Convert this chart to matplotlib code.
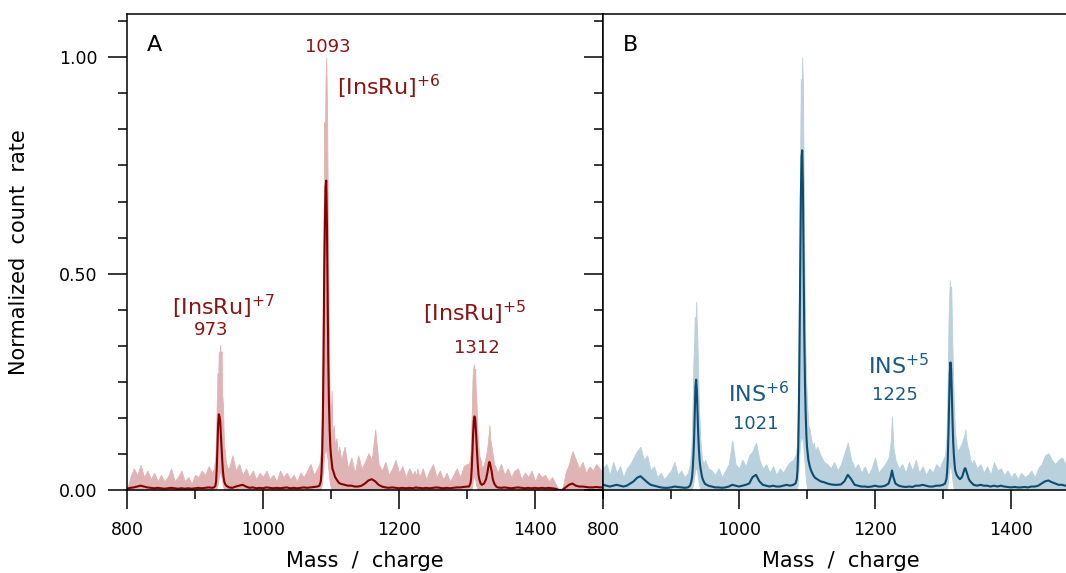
import numpy as np
import matplotlib
matplotlib.use("Agg")
import matplotlib.pyplot as plt
from matplotlib.ticker import MultipleLocator, FormatStrFormatter

# m/z sample positions (coarse in the baseline, 1 unit steps across the peaks)
mz = [800, 805, 810, 815, 820, 825, 830, 835, 840, 845, 850, 855, 860, 865,
      870, 875, 880, 885, 890, 895, 900, 905, 910, 915, 920, 925,
      928, 930, 931, 932, 933, 934, 935, 936, 937, 938, 939, 940, 941, 942,
      943, 944, 945, 946, 948,
      950, 955, 960, 965, 970, 975, 980, 985, 990, 995, 1000, 1005, 1010, 1015,
      1020, 1025, 1030, 1035, 1040, 1045, 1050, 1055, 1060, 1065, 1070, 1075, 1080,
      1083, 1085, 1086, 1087, 1088, 1089, 1090, 1091, 1092, 1093, 1094, 1095,
      1096, 1097, 1098, 1099, 1100, 1101, 1102, 1104, 1106, 1108, 1110, 1112,
      1115, 1120, 1125, 1130, 1135, 1140, 1145, 1150, 1155, 1160, 1165, 1170,
      1175, 1180, 1185, 1190, 1195, 1200, 1205, 1210, 1215, 1220,
      1223, 1225, 1227,
      1230, 1235, 1240, 1245, 1250, 1255, 1260, 1265, 1270, 1275, 1280, 1285,
      1290, 1295, 1300,
      1303, 1305, 1306, 1307, 1308, 1309, 1310, 1311, 1312, 1313, 1314, 1315,
      1316, 1317, 1318, 1320, 1322, 1325, 1328, 1330, 1332, 1333, 1334, 1336,
      1338, 1340, 1343,
      1345, 1350, 1355, 1360, 1365, 1370, 1375, 1380, 1385, 1390, 1395, 1400,
      1405, 1410, 1415, 1420, 1425, 1430, 1435, 1440, 1445, 1450, 1455, 1460,
      1465, 1470, 1475, 1480, 1485, 1490, 1495, 1500]

# panel A: [InsRu] complex, raw counts (light) and averaged counts (dark)
a_raw = [0.0, 0.03, 0.05, 0.035, 0.058, 0.03, 0.045, 0.025, 0.04, 0.02, 0.035, 0.02, 0.03, 0.05,
         0.02, 0.03, 0.045, 0.02, 0.03, 0.015, 0.035, 0.03, 0.045, 0.035, 0.055, 0.04,
         0.05, 0.08, 0.12, 0.2, 0.27, 0.25, 0.32, 0.3, 0.335, 0.3, 0.32, 0.22, 0.2, 0.14,
         0.1, 0.09, 0.07, 0.06, 0.05,
         0.05, 0.08, 0.045, 0.06, 0.035, 0.05, 0.03, 0.045, 0.025, 0.04, 0.03, 0.045, 0.025, 0.035,
         0.02, 0.045, 0.03, 0.04, 0.025, 0.035, 0.02, 0.04, 0.03, 0.045, 0.06, 0.035, 0.05,
         0.06, 0.09, 0.14, 0.25, 0.4, 0.6, 0.85, 0.8, 0.95, 1.0, 0.9, 0.72,
         0.5, 0.35, 0.22, 0.2, 0.18, 0.23, 0.12, 0.15, 0.1, 0.12, 0.08, 0.1,
         0.07, 0.1, 0.05, 0.075, 0.04, 0.08, 0.05, 0.065, 0.085, 0.07, 0.14, 0.06,
         0.045, 0.065, 0.035, 0.05, 0.07, 0.04, 0.055, 0.03, 0.05, 0.035,
         0.045, 0.03, 0.05,
         0.03, 0.05, 0.025, 0.045, 0.06, 0.03, 0.045, 0.025, 0.04, 0.02, 0.035, 0.05,
         0.03, 0.055, 0.06,
         0.06, 0.08, 0.12, 0.18, 0.25, 0.28, 0.29, 0.27, 0.28, 0.22, 0.2, 0.15,
         0.12, 0.1, 0.08, 0.07, 0.05, 0.06, 0.08, 0.1, 0.13, 0.15, 0.12, 0.1,
         0.08, 0.06, 0.05,
         0.04, 0.06, 0.035, 0.05, 0.03, 0.045, 0.05, 0.025, 0.04, 0.03, 0.045, 0.02,
         0.04, 0.03, 0.035, 0.02, 0.03, 0.015, 0.0, 0.0, 0.04, 0.06, 0.09, 0.07,
         0.05, 0.065, 0.04, 0.055, 0.045, 0.06, 0.05, 0.04]
a_avg = [0.003, 0.005, 0.006, 0.008, 0.01, 0.008, 0.006, 0.005, 0.004, 0.005, 0.004, 0.003, 0.004, 0.005,
         0.004, 0.003, 0.004, 0.003, 0.004, 0.003, 0.004, 0.005, 0.004, 0.005, 0.006, 0.005,
         0.006, 0.01, 0.02, 0.05, 0.1, 0.15, 0.175, 0.17, 0.16, 0.13, 0.1, 0.07, 0.045, 0.03,
         0.02, 0.015, 0.012, 0.01, 0.008,
         0.006, 0.005, 0.008, 0.01, 0.012, 0.008, 0.005, 0.006, 0.004, 0.005, 0.004, 0.006, 0.005, 0.004,
         0.005, 0.004, 0.005, 0.006, 0.004, 0.005, 0.004, 0.005, 0.006, 0.005, 0.006, 0.007, 0.008,
         0.01, 0.02, 0.04, 0.08, 0.16, 0.3, 0.5, 0.62, 0.7, 0.715, 0.62, 0.45,
         0.3, 0.2, 0.14, 0.1, 0.08, 0.065, 0.05, 0.04, 0.03, 0.025, 0.02, 0.016,
         0.014, 0.012, 0.01, 0.01, 0.008, 0.008, 0.01, 0.015, 0.022, 0.025, 0.02, 0.012,
         0.008, 0.006, 0.005, 0.006, 0.005, 0.004, 0.005, 0.004, 0.005, 0.004,
         0.005, 0.006, 0.005,
         0.005, 0.004, 0.005, 0.004, 0.005, 0.006, 0.005, 0.004, 0.005, 0.004, 0.005, 0.006,
         0.006, 0.007, 0.008,
         0.008, 0.015, 0.025, 0.05, 0.09, 0.13, 0.16, 0.17, 0.165, 0.14, 0.11, 0.08,
         0.055, 0.035, 0.025, 0.015, 0.012, 0.015, 0.025, 0.04, 0.06, 0.065, 0.06, 0.045,
         0.025, 0.015, 0.008,
         0.006, 0.005, 0.006, 0.005, 0.004, 0.005, 0.006, 0.005, 0.004, 0.005, 0.004, 0.005,
         0.004, 0.005, 0.004, 0.005, 0.004, 0.003, 0.0, 0.0, 0.006, 0.012, 0.015, 0.01,
         0.008, 0.008, 0.007, 0.006, 0.006, 0.007, 0.006, 0.006]
# lowest raw count inside the peaks (gives the white gap under each peak)
a_gap_mz = [932, 933, 934, 935, 936, 937, 938, 939, 940, 941, 942,
            1086, 1087, 1088, 1089, 1090, 1091, 1092, 1093, 1094, 1095, 1096, 1097, 1098, 1099, 1100,
            1307, 1308, 1309, 1310, 1311, 1312, 1313, 1314, 1315]
a_gap_lo = [0.005, 0.01, 0.02, 0.03, 0.04, 0.04, 0.035, 0.03, 0.02, 0.01, 0.005,
            0.01, 0.02, 0.04, 0.06, 0.08, 0.09, 0.09, 0.09, 0.08, 0.07, 0.05, 0.035, 0.02, 0.01, 0.005,
            0.005, 0.015, 0.025, 0.03, 0.03, 0.025, 0.015, 0.008, 0.003]

# panel B: free insulin
b_raw = [0.05, 0.06, 0.035, 0.065, 0.04, 0.055, 0.03, 0.05, 0.06, 0.075, 0.09, 0.1, 0.07, 0.08,
         0.045, 0.055, 0.03, 0.04, 0.025, 0.035, 0.045, 0.065, 0.035, 0.045, 0.03, 0.04,
         0.06, 0.1, 0.15, 0.22, 0.3, 0.34, 0.4, 0.38, 0.435, 0.38, 0.33, 0.26, 0.2, 0.16,
         0.12, 0.1, 0.08, 0.07, 0.06,
         0.07, 0.05, 0.045, 0.035, 0.05, 0.03, 0.045, 0.06, 0.115, 0.06, 0.05, 0.07, 0.055, 0.08,
         0.09, 0.11, 0.07, 0.05, 0.06, 0.04, 0.055, 0.035, 0.05, 0.04, 0.055, 0.065, 0.07,
         0.08, 0.1, 0.15, 0.25, 0.4, 0.6, 0.8, 0.95, 0.9, 1.0, 0.93, 0.75,
         0.55, 0.4, 0.3, 0.25, 0.2, 0.18, 0.15, 0.14, 0.12, 0.1, 0.11, 0.09,
         0.1, 0.08, 0.065, 0.06, 0.05, 0.065, 0.045, 0.06, 0.085, 0.11, 0.07, 0.05,
         0.06, 0.04, 0.055, 0.035, 0.05, 0.075, 0.04, 0.05, 0.06, 0.075,
         0.11, 0.17, 0.1,
         0.07, 0.05, 0.06, 0.04, 0.065, 0.045, 0.07, 0.04, 0.055, 0.035, 0.05, 0.04,
         0.06, 0.05, 0.07,
         0.08, 0.12, 0.18, 0.27, 0.38, 0.44, 0.485, 0.46, 0.47, 0.4, 0.32, 0.25,
         0.2, 0.16, 0.13, 0.1, 0.09, 0.1, 0.11, 0.12, 0.13, 0.14, 0.12, 0.1,
         0.09, 0.07, 0.06,
         0.07, 0.05, 0.06, 0.04, 0.055, 0.035, 0.065, 0.045, 0.05, 0.035, 0.045, 0.03,
         0.04, 0.025, 0.04, 0.03, 0.035, 0.045, 0.03, 0.05, 0.06, 0.08, 0.085, 0.07,
         0.06, 0.07, 0.075, 0.06, 0.07, 0.05, 0.06, 0.05]
b_avg = [0.012, 0.01, 0.008, 0.01, 0.012, 0.01, 0.008, 0.01, 0.015, 0.02, 0.028, 0.032, 0.025, 0.018,
         0.012, 0.01, 0.008, 0.006, 0.005, 0.005, 0.006, 0.008, 0.007, 0.006, 0.005, 0.006,
         0.01, 0.02, 0.03, 0.05, 0.08, 0.12, 0.18, 0.24, 0.255, 0.23, 0.18, 0.13, 0.095, 0.07,
         0.055, 0.045, 0.035, 0.028, 0.02,
         0.014, 0.01, 0.008, 0.006, 0.006, 0.005, 0.006, 0.008, 0.012, 0.01, 0.008, 0.01, 0.012, 0.015,
         0.03, 0.035, 0.02, 0.012, 0.01, 0.008, 0.01, 0.008, 0.008, 0.01, 0.012, 0.01, 0.012,
         0.015, 0.025, 0.045, 0.09, 0.18, 0.33, 0.52, 0.68, 0.77, 0.785, 0.7, 0.52,
         0.36, 0.25, 0.18, 0.13, 0.1, 0.085, 0.07, 0.055, 0.045, 0.038, 0.032, 0.028,
         0.025, 0.02, 0.018, 0.015, 0.013, 0.012, 0.012, 0.013, 0.02, 0.035, 0.025, 0.012,
         0.01, 0.008, 0.008, 0.007, 0.008, 0.01, 0.008, 0.008, 0.01, 0.015,
         0.03, 0.045, 0.03,
         0.015, 0.01, 0.008, 0.007, 0.008, 0.007, 0.01, 0.01, 0.012, 0.01, 0.008, 0.008,
         0.01, 0.01, 0.012,
         0.015, 0.025, 0.04, 0.07, 0.13, 0.2, 0.27, 0.295, 0.28, 0.22, 0.16, 0.11,
         0.08, 0.06, 0.045, 0.035, 0.03, 0.025, 0.03, 0.04, 0.05, 0.05, 0.045, 0.035,
         0.025, 0.02, 0.015,
         0.012, 0.01, 0.012, 0.01, 0.01, 0.008, 0.01, 0.008, 0.01, 0.008, 0.007, 0.006,
         0.007, 0.006, 0.006, 0.007, 0.006, 0.008, 0.008, 0.01, 0.015, 0.02, 0.022, 0.018,
         0.015, 0.012, 0.012, 0.01, 0.01, 0.01, 0.01, 0.01]
b_gap_mz = [931, 932, 933, 934, 935, 936, 937, 938, 939, 940, 941, 942,
            1086, 1087, 1088, 1089, 1090, 1091, 1092, 1093, 1094, 1095, 1096, 1097, 1098, 1099, 1100,
            1306, 1307, 1308, 1309, 1310, 1311, 1312, 1313, 1314, 1315]
b_gap_lo = [0.005, 0.01, 0.02, 0.03, 0.04, 0.05, 0.05, 0.045, 0.035, 0.025, 0.015, 0.008,
            0.01, 0.03, 0.06, 0.09, 0.11, 0.12, 0.12, 0.12, 0.11, 0.09, 0.07, 0.05, 0.03, 0.015, 0.005,
            0.005, 0.015, 0.03, 0.045, 0.055, 0.055, 0.05, 0.035, 0.02, 0.01]

RED = "#870000"
PINK = "#e0b4b4"
RED_TXT = "#8a1414"
BLUE = "#0b4c70"
LBLUE = "#b9d0dd"
BLUE_TXT = "#1a5a80"


def lower_edge(gap_mz, gap_lo):
    lo = np.zeros(len(mz))
    lo[np.searchsorted(mz, gap_mz)] = gap_lo
    return lo


def draw_panel(ax, raw, lo, avg, light, dark):
    ax.fill_between(mz, lo, raw, facecolor=light, edgecolor=light, lw=0.6, zorder=1)
    ax.plot(mz, avg, color=dark, lw=1.5, zorder=2)
    ax.set_xlim(800, 1500)
    ax.set_ylim(0, 1.1)
    ax.xaxis.set_major_locator(MultipleLocator(200))
    ax.xaxis.set_minor_locator(MultipleLocator(100))
    ax.yaxis.set_major_locator(MultipleLocator(0.5))
    ax.yaxis.set_minor_locator(MultipleLocator(1 / 12))
    ax.yaxis.set_major_formatter(FormatStrFormatter("%.2f"))
    ax.tick_params(which="major", direction="out", length=13.5, width=1.1, labelsize=12.5)
    ax.tick_params(which="minor", direction="out", length=6.5, width=1.1)
    ax.tick_params(axis="x", pad=9)
    ax.tick_params(axis="y", pad=8)
    for s in ax.spines.values():
        s.set_linewidth(1.1)
        s.set_zorder(5)
    ax.set_xlabel("Mass  /  charge", fontsize=15)
    ax.xaxis.set_label_coords(0.5, -0.128)


fig = plt.figure(figsize=(10.66, 5.73), dpi=100)
axA = fig.add_axes([127 / 1066, 83 / 573, 476 / 1066, 476 / 573])
axB = fig.add_axes([603 / 1066, 83 / 573, 476 / 1066, 476 / 573])

draw_panel(axA, a_raw, lower_edge(a_gap_mz, a_gap_lo), a_avg, PINK, RED)
draw_panel(axB, b_raw, lower_edge(b_gap_mz, b_gap_lo), b_avg, LBLUE, BLUE)
axB.tick_params(labelleft=False)

axA.set_ylabel("Normalized  count  rate", fontsize=15)
axA.yaxis.set_label_coords(-0.205, 0.5)

# panel letters
axA.text(840, 1.028, "A", fontsize=16, ha="center", va="center")
axB.text(840, 1.028, "B", fontsize=16, ha="center", va="center")

# peak labels, panel A
axA.text(1094.6, 1.024, "1093", fontsize=13, color=RED_TXT, ha="center", va="center")
axA.text(1109, 0.912, r"[InsRu]$^{\mathregular{+6}}$", fontsize=16, color=RED_TXT, va="baseline")
axA.text(866, 0.404, r"[InsRu]$^{\mathregular{+7}}$", fontsize=16, color=RED_TXT, va="baseline")
axA.text(924, 0.358, "973", fontsize=13, color=RED_TXT, ha="center", va="baseline")
axA.text(1236, 0.389, r"[InsRu]$^{\mathregular{+5}}$", fontsize=16, color=RED_TXT, va="baseline")
axA.text(1314.7, 0.316, "1312", fontsize=13, color=RED_TXT, ha="center", va="baseline")

# peak labels, panel B
axB.text(984, 0.204, r"INS$^{\mathregular{+6}}$", fontsize=16, color=BLUE_TXT, va="baseline")
axB.text(1025, 0.142, "1021", fontsize=13, color=BLUE_TXT, ha="center", va="baseline")
axB.text(1189, 0.267, r"INS$^{\mathregular{+5}}$", fontsize=16, color=BLUE_TXT, va="baseline")
axB.text(1229.5, 0.208, "1225", fontsize=13, color=BLUE_TXT, ha="center", va="baseline")

fig.savefig("out.png", dpi=100)
